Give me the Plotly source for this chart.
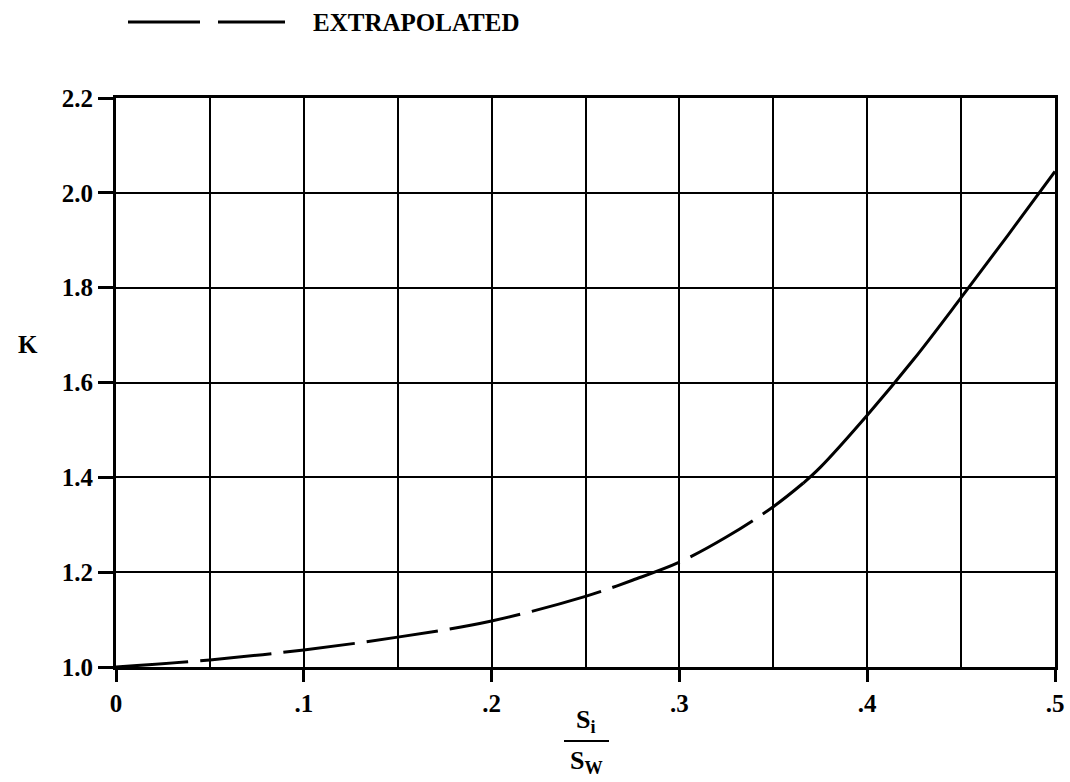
import plotly.graph_objects as go

# Extrapolated (dashed) portion of the curve
x_extrap = [0.0, 0.05, 0.10, 0.15, 0.20, 0.25, 0.275, 0.30, 0.325, 0.35, 0.366]
k_extrap = [1.000, 1.015, 1.036, 1.063, 1.097, 1.149, 1.183, 1.221, 1.274, 1.338, 1.388]

# Solid portion of the curve
x_solid = [0.366, 0.375, 0.40, 0.425, 0.45, 0.475, 0.50]
k_solid = [1.388, 1.421, 1.531, 1.650, 1.779, 1.911, 2.045]

x_tickvals = [0.0, 0.1, 0.2, 0.3, 0.4, 0.5]
x_ticktext = ["0", ".1", ".2", ".3", ".4", ".5"]
y_tickvals = [1.0, 1.2, 1.4, 1.6, 1.8, 2.0, 2.2]
y_ticktext = ["1.0", "1.2", "1.4", "1.6", "1.8", "2.0", "2.2"]

legend_label = "EXTRAPOLATED"
y_title = "K"

FONT = "Liberation Serif"

fig = go.Figure()
fig.add_trace(go.Scatter(
    x=x_extrap, y=k_extrap, mode="lines", line_shape="spline",
    line=dict(color="black", width=3, dash="72px,12px"),
    showlegend=False, hoverinfo="skip"))
fig.add_trace(go.Scatter(
    x=x_solid, y=k_solid, mode="lines", line_shape="spline",
    line=dict(color="black", width=3),
    showlegend=False, hoverinfo="skip"))

W, H = 1070, 782
ml, mr, mt, mb = 116, 15, 98, 115
pw, ph = W - ml - mr, H - mt - mb

def px2x(px):
    return (px - ml) / pw

def py2y(py):
    return (H - mb - py) / ph

shapes = [
    dict(type="line", xref="paper", yref="paper", x0=px2x(128), x1=px2x(200),
         y0=py2y(22), y1=py2y(22), line=dict(color="black", width=3)),
    dict(type="line", xref="paper", yref="paper", x0=px2x(218), x1=px2x(285),
         y0=py2y(22), y1=py2y(22), line=dict(color="black", width=3)),
    dict(type="line", xref="paper", yref="paper", x0=px2x(564), x1=px2x(609),
         y0=py2y(741), y1=py2y(741), line=dict(color="black", width=2)),
]

annotations = [
    dict(text=legend_label, xref="paper", yref="paper", x=px2x(311), y=py2y(22),
         xanchor="left", yanchor="middle", showarrow=False,
         font=dict(family=FONT, size=25, color="black", weight="bold")),
    dict(text="S<sub>i</sub>", xref="paper", yref="paper", x=px2x(586), y=py2y(721),
         xanchor="center", yanchor="middle", showarrow=False,
         font=dict(family=FONT, size=26, color="black", weight="bold")),
    dict(text="S<sub>W</sub>", xref="paper", yref="paper", x=px2x(586), y=py2y(762),
         xanchor="center", yanchor="middle", showarrow=False,
         font=dict(family=FONT, size=26, color="black", weight="bold")),
    dict(text=y_title, xref="paper", yref="paper", x=px2x(28), y=py2y(344),
         xanchor="center", yanchor="middle", showarrow=False,
         font=dict(family=FONT, size=25, color="black", weight="bold")),
]

fig.update_layout(
    width=W, height=H,
    margin=dict(l=ml, r=mr, t=mt, b=mb, pad=0, autoexpand=False),
    paper_bgcolor="white", plot_bgcolor="white",
    font=dict(family=FONT, size=24, color="black", weight="bold"),
    shapes=shapes, annotations=annotations,
)
fig.update_xaxes(
    range=[0, 0.5], tickvals=x_tickvals, ticktext=x_ticktext, automargin=False,
    showgrid=True, gridcolor="black", gridwidth=2,
    minor=dict(dtick=0.05, tick0=0, showgrid=True, gridcolor="black", gridwidth=2),
    showline=True, linecolor="black", linewidth=3, mirror=True,
    ticks="outside", ticklen=12, tickwidth=3, tickcolor="black",
    zeroline=False, tickfont=dict(family=FONT, size=25, weight="bold"),
)
fig.update_yaxes(
    range=[1.0, 2.2], tickvals=y_tickvals, ticktext=y_ticktext, automargin=False,
    showgrid=True, gridcolor="black", gridwidth=2,
    showline=True, linecolor="black", linewidth=3, mirror=True,
    ticks="outside", ticklen=15, tickwidth=3, tickcolor="black",
    zeroline=False, tickfont=dict(family=FONT, size=25, weight="bold"),
)

fig.write_html("out.html", config={"displayModeBar": False},
               post_script="document.body.style.margin='0';")
